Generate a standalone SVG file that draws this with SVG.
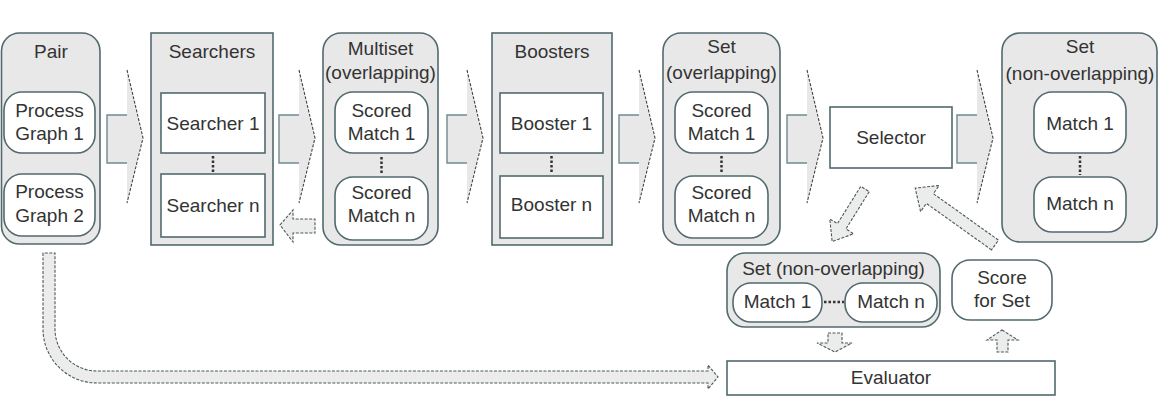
<svg xmlns="http://www.w3.org/2000/svg" xmlns:xlink="http://www.w3.org/1999/xlink" width="1166" height="404" viewBox="0 0 1166 404">
<style>
.outer{fill:#e8e8e8;stroke:#52696d;stroke-width:1.6}
.inner{fill:#ffffff;stroke:#52696d;stroke-width:1.6}
.t{font-family:"Liberation Sans",Arial,sans-serif;font-size:19px;fill:#333333;text-anchor:middle}
.dots{stroke:#333333;stroke-width:2.5;stroke-dasharray:2.5 2;fill:none}
.afill{fill:#e8e8e8;stroke:none}
.ashaft{fill:none;stroke:#6e8a8e;stroke-width:1.4}
.adash{fill:none;stroke:#444444;stroke-width:1.1;stroke-dasharray:3 1.5}
.hollow{fill:#ececec;stroke:#4a5a5c;stroke-width:1.1;stroke-dasharray:3 1.5}
</style>
<defs>
<g id="bigArrow">
<path class="afill" d="M0,115 H20 V70 L36,138 L20,203 V163 H0 Z"/>
<path class="ashaft" d="M20,115 H0 V163 H20"/>
<path class="adash" d="M20,70 L36,138 L20,203"/>
</g>
</defs>

<g id="connectors">
<use xlink:href="#bigArrow" transform="translate(107,0)"/>
<use xlink:href="#bigArrow" transform="translate(279,0)"/>
<use xlink:href="#bigArrow" transform="translate(447,0)"/>
<use xlink:href="#bigArrow" transform="translate(619,0)"/>
<use xlink:href="#bigArrow" transform="translate(787,0)"/>
<use xlink:href="#bigArrow" transform="translate(957,0)"/>
<path class="hollow" d="M280,225 L293,210 V219 H315 V233 H293 V242 Z"/>
<path class="hollow" d="M0,-5 H44 V-14 L62,0 L44,14 V5 H0 Z" transform="translate(865,189) rotate(122)"/>
<path class="hollow" d="M0,-6 H80 V-16 L98,0 L80,16 V6 H0 Z" transform="translate(995,245) rotate(-144.5)"/>
<path class="hollow" d="M828,333 H842 V343 H852 L835,352 L817,343 H828 Z"/>
<path class="hollow" d="M1002,330 L1018,340 H1008 V352 H997 V340 H987 Z"/>
<path class="hollow" d="M43,253 V329 A54,54 0 0 0 97,383 H708 V389 L718,377 L708,365 V371 H97 A42,42 0 0 1 55,329 V253 Z"/>
</g>

<g id="pair">
<rect class="outer" x="1.5" y="33" width="98.5" height="211" rx="18"/>
<text class="t" x="51" y="58">Pair</text>
</g>
<g id="process-graph-1">
<rect class="inner" x="4" y="92" width="91" height="61" rx="18"/>
<text class="t" x="49.5" y="117">Process</text>
<text class="t" x="49.5" y="140">Graph 1</text>
</g>
<g id="process-graph-2">
<rect class="inner" x="4" y="174" width="91" height="62" rx="18"/>
<text class="t" x="49.5" y="198">Process</text>
<text class="t" x="49.5" y="222">Graph 2</text>
</g>

<g id="searchers">
<rect class="outer" x="151" y="33" width="122" height="212"/>
<text class="t" x="212" y="58">Searchers</text>
<line class="dots" x1="213" y1="156" x2="213" y2="173"/>
</g>
<g id="searcher-1">
<rect class="inner" x="161" y="93" width="104" height="60"/>
<text class="t" x="213" y="130">Searcher 1</text>
</g>
<g id="searcher-n">
<rect class="inner" x="161" y="174" width="104" height="63"/>
<text class="t" x="213" y="212">Searcher n</text>
</g>

<g id="multiset">
<rect class="outer" x="323" y="33" width="115" height="212" rx="18"/>
<text class="t" x="380.5" y="55">Multiset</text>
<text class="t" x="380.5" y="79">(overlapping)</text>
<line class="dots" x1="381.5" y1="157" x2="381.5" y2="175"/>
</g>
<g id="multiset-scored-match-1">
<rect class="inner" x="335" y="92" width="93" height="61" rx="18"/>
<text class="t" x="381.5" y="117">Scored</text>
<text class="t" x="381.5" y="140">Match 1</text>
</g>
<g id="multiset-scored-match-n">
<rect class="inner" x="335" y="177" width="93" height="63" rx="18"/>
<text class="t" x="381.5" y="199">Scored</text>
<text class="t" x="381.5" y="222">Match n</text>
</g>

<g id="boosters">
<rect class="outer" x="492" y="33" width="120" height="212"/>
<text class="t" x="552" y="58">Boosters</text>
<line class="dots" x1="551.5" y1="156" x2="551.5" y2="174"/>
</g>
<g id="booster-1">
<rect class="inner" x="500" y="93" width="103" height="60"/>
<text class="t" x="551.5" y="130">Booster 1</text>
</g>
<g id="booster-n">
<rect class="inner" x="500" y="176" width="103" height="62"/>
<text class="t" x="551.5" y="211">Booster n</text>
</g>

<g id="set-overlapping">
<rect class="outer" x="663" y="33" width="117" height="212" rx="18"/>
<text class="t" x="721.5" y="53">Set</text>
<text class="t" x="721.5" y="79">(overlapping)</text>
<line class="dots" x1="721.5" y1="156" x2="721.5" y2="174"/>
</g>
<g id="set-scored-match-1">
<rect class="inner" x="675" y="92" width="93" height="61" rx="18"/>
<text class="t" x="721.5" y="117">Scored</text>
<text class="t" x="721.5" y="140">Match 1</text>
</g>
<g id="set-scored-match-n">
<rect class="inner" x="675" y="176" width="93" height="62" rx="18"/>
<text class="t" x="721.5" y="199">Scored</text>
<text class="t" x="721.5" y="222">Match n</text>
</g>

<g id="selector">
<rect class="inner" x="830" y="107" width="122" height="61"/>
<text class="t" x="891" y="144">Selector</text>
</g>

<g id="set-non-overlapping">
<rect class="outer" x="1002" y="33" width="155" height="209" rx="18"/>
<text class="t" x="1080" y="53">Set</text>
<text class="t" x="1080" y="80">(non-overlapping)</text>
<line class="dots" x1="1080" y1="156" x2="1080" y2="175"/>
</g>
<g id="final-match-1">
<rect class="inner" x="1034" y="92" width="92" height="61" rx="18"/>
<text class="t" x="1080" y="130">Match 1</text>
</g>
<g id="final-match-n">
<rect class="inner" x="1034" y="177" width="92" height="55" rx="18"/>
<text class="t" x="1080" y="210">Match n</text>
</g>

<g id="candidate-set">
<rect class="outer" x="727" y="253" width="213" height="74" rx="18"/>
<text class="t" x="833.5" y="275">Set (non-overlapping)</text>
<line class="dots" x1="824" y1="302" x2="844" y2="302"/>
</g>
<g id="candidate-match-1">
<rect class="inner" x="733" y="283" width="89" height="39" rx="18"/>
<text class="t" x="777.5" y="308">Match 1</text>
</g>
<g id="candidate-match-n">
<rect class="inner" x="845" y="283" width="92" height="39" rx="18"/>
<text class="t" x="891" y="308">Match n</text>
</g>

<g id="score-for-set">
<rect class="inner" x="952" y="260" width="100" height="60" rx="18"/>
<text class="t" x="1002" y="284">Score</text>
<text class="t" x="1002" y="307">for Set</text>
</g>

<g id="evaluator">
<rect class="inner" x="727" y="361" width="328" height="34"/>
<text class="t" x="891" y="384">Evaluator</text>
</g>
</svg>
